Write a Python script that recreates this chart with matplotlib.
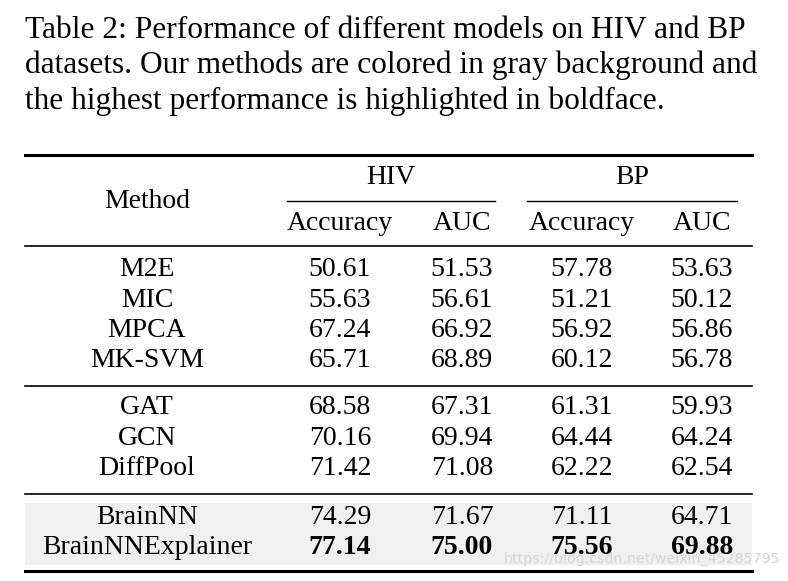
import matplotlib.pyplot as plt

plt.rcParams['font.family'] = ['Liberation Serif', 'DejaVu Serif']

caption = ["Table 2: Performance of different models on HIV and BP",
           "datasets. Our methods are colored in gray background and",
           "the highest performance is highlighted in boldface."]

datasets = ["HIV", "BP"]
metrics = ["Accuracy", "AUC", "Accuracy", "AUC"]

groups = [
    ["M2E", "MIC", "MPCA", "MK-SVM"],
    ["GAT", "GCN", "DiffPool"],
    ["BrainNN", "BrainNNExplainer"],
]
scores = {
    "M2E": [50.61, 51.53, 57.78, 53.63],
    "MIC": [55.63, 56.61, 51.21, 50.12],
    "MPCA": [67.24, 66.92, 56.92, 56.86],
    "MK-SVM": [65.71, 68.89, 60.12, 56.78],
    "GAT": [68.58, 67.31, 61.31, 59.93],
    "GCN": [70.16, 69.94, 64.44, 64.24],
    "DiffPool": [71.42, 71.08, 62.22, 62.54],
    "BrainNN": [74.29, 71.67, 71.11, 64.71],
    "BrainNNExplainer": [77.14, 75.00, 75.56, 69.88],
}
ours = ["BrainNN", "BrainNNExplainer"]

W, H = 788, 581
fig = plt.figure(figsize=(W / 100, H / 100), dpi=100)
ax = fig.add_axes([0, 0, 1, 1])
ax.set_xlim(0, W)
ax.set_ylim(H, 0)
ax.axis('off')

fs = 20
left, right = 25, 752
col_x = [147, 340, 462, 582, 702]

# caption
for i, line in enumerate(caption):
    ax.text(left, 38 + i * 35.3, line, fontsize=22.6, va='baseline', ha='left')

# rules
ax.plot([left, right], [155, 155], color='black', lw=2.2)
ax.plot([287, 495], [201, 201], color='black', lw=1.0)
ax.plot([527, 737], [201, 201], color='black', lw=1.0)
ax.plot([left, right], [246, 246], color='black', lw=1.2)
ax.plot([left, right], [386, 386], color='black', lw=1.2)
ax.plot([left, right], [494, 494], color='black', lw=1.2)
ax.plot([left, right], [571, 571], color='black', lw=2.2)

# header
ax.text(col_x[0], 201, "Method", fontsize=fs, ha='center', va='center')
ax.text(391, 178, datasets[0], fontsize=fs, ha='center', va='center')
ax.text(632, 178, datasets[1], fontsize=fs, ha='center', va='center')
for x, m in zip(col_x[1:], metrics):
    ax.text(x, 224, m, fontsize=fs, ha='center', va='center')

# body
group_top = [270, 408, 517]
row_h = 30.3
for g, top in zip(groups, group_top):
    if g[0] in ours:
        ax.fill_between([left, right], top - 14, top + row_h * (len(g) - 1) + 18,
                        color='#f0f0f0', lw=0, zorder=0)
    for i, name in enumerate(g):
        y = top + i * row_h
        ax.text(col_x[0], y, name, fontsize=fs, ha='center', va='center', zorder=3)
        for j, v in enumerate(scores[name]):
            best = v == max(scores[n][j] for n in scores)
            ax.text(col_x[j + 1], y, f"{v:.2f}", fontsize=fs, ha='center', va='center',
                    fontweight='bold' if best else 'normal', zorder=3)

ax.text(780, 559, "https://blog.csdn.net/weixin_45285795", fontsize=10.2, ha='right',
        va='center', color='#d6d6d6', zorder=1,
        family=['Liberation Sans Narrow', 'DejaVu Sans'])

fig.savefig("out.png", dpi=100)
